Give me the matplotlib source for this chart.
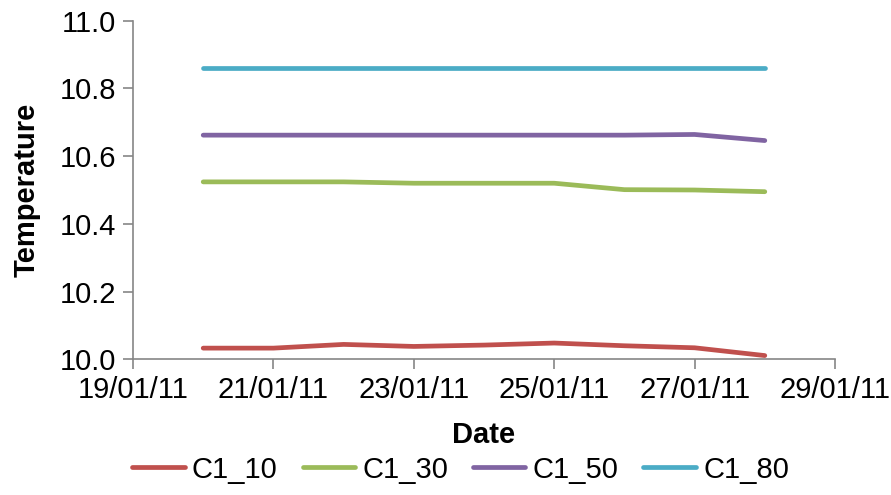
import datetime as dt
import matplotlib
matplotlib.use("Agg")
import matplotlib.pyplot as plt
import matplotlib.dates as mdates

plt.rcParams['font.family'] = ['Liberation Sans', 'DejaVu Sans']

# Daily readings, 20/01/2011 - 28/01/2011
dates = [dt.datetime(2011, 1, d) for d in range(20, 29)]
c1_10 = [10.033, 10.033, 10.044, 10.038, 10.042, 10.048, 10.040, 10.034, 10.011]
c1_30 = [10.524, 10.524, 10.524, 10.520, 10.520, 10.520, 10.501, 10.500, 10.495]
c1_50 = [10.662, 10.662, 10.662, 10.662, 10.662, 10.662, 10.662, 10.664, 10.646]
c1_80 = [10.860, 10.860, 10.860, 10.860, 10.860, 10.860, 10.860, 10.860, 10.860]

series = [("C1_10", c1_10, "#C0504D"),
          ("C1_30", c1_30, "#9BBB59"),
          ("C1_50", c1_50, "#8064A2"),
          ("C1_80", c1_80, "#4BACC6")]

fs = 21

fig = plt.figure(figsize=(8.91, 4.95), dpi=100)
ax = fig.add_axes([133/891, 1 - 359.3/495, (835-133)/891, (359.3-20.7)/495])

for name, vals, col in series:
    ax.plot(dates, vals, color=col, lw=3.4, label=name, solid_capstyle='round')

ax.set_xlim(dt.datetime(2011, 1, 19), dt.datetime(2011, 1, 29))
ax.set_ylim(10.0, 11.0)
ax.xaxis.set_major_locator(mdates.DayLocator(bymonthday=[19, 21, 23, 25, 27, 29]))
ax.xaxis.set_major_formatter(mdates.DateFormatter('%d/%m/%y'))
ax.set_yticks([10.0, 10.2, 10.4, 10.6, 10.8, 11.0])
ax.yaxis.set_major_formatter(matplotlib.ticker.FormatStrFormatter('%.1f'))

axis_col = '#868686'
for s in ['top', 'right']:
    ax.spines[s].set_visible(False)
for s in ['left', 'bottom']:
    ax.spines[s].set_color(axis_col)
    ax.spines[s].set_linewidth(1.2)
ax.tick_params(axis='both', direction='out', length=7, width=1.2, color=axis_col,
               labelsize=fs, labelcolor='black', pad=5)

ax.set_xlabel('Date', fontsize=fs, fontweight='bold', labelpad=12)
ax.set_ylabel('Temperature', fontsize=fs, fontweight='bold', labelpad=14)

fig.legend(loc='lower center', bbox_to_anchor=(0.517, -0.03), ncol=4, frameon=False,
           fontsize=fs, handlelength=1.8, handletextpad=0.25, columnspacing=0.85)

fig.savefig('out.png', dpi=100)
